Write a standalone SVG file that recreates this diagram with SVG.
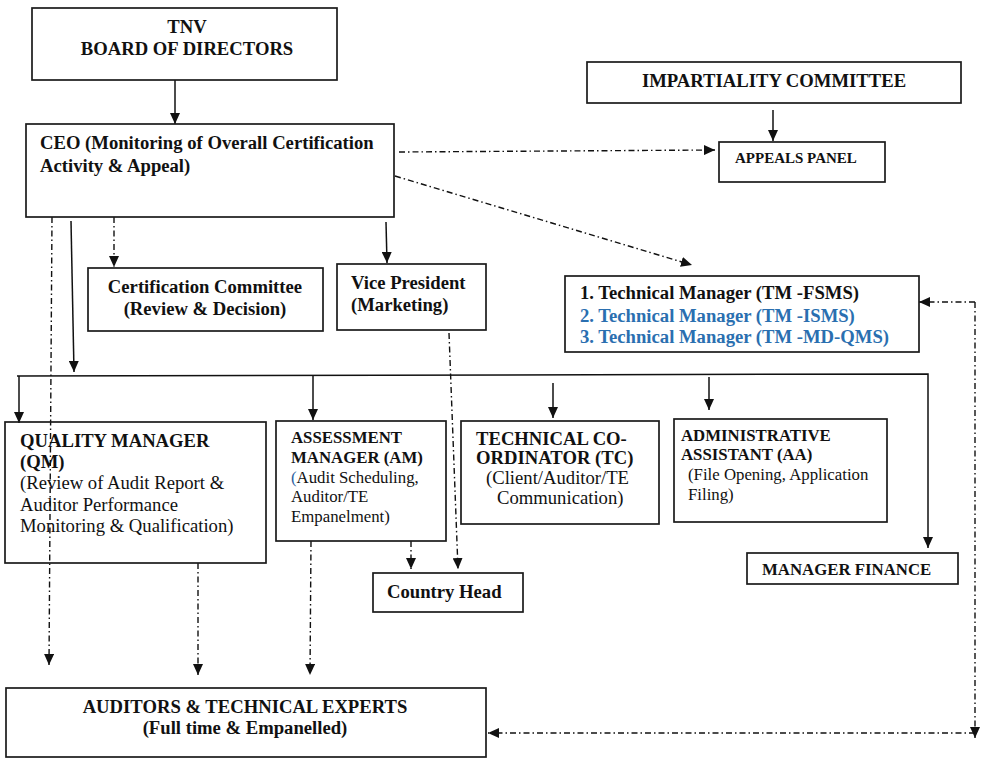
<svg xmlns="http://www.w3.org/2000/svg" width="984" height="766" viewBox="0 0 984 766">
<style>
.box{fill:none;stroke:#1a1a1a;stroke-width:1.7}
.t{font-family:"Liberation Serif","Times New Roman",serif;fill:#111}
.b{font-weight:bold}
.s{font-size:18.67px}
.m{font-size:16.8px}
.blue{fill:#2a6fb0}
.solid{fill:none;stroke:#111;stroke-width:1.5}
.dd{fill:none;stroke:#111;stroke-width:1.4;stroke-dasharray:6 3 1.5 3}
</style>
<defs>
<marker id="ah" markerWidth="11" markerHeight="10" refX="11" refY="5" orient="auto" markerUnits="userSpaceOnUse">
<path d="M0,0 L11,5 L0,10 z" fill="#111"/>
</marker>
</defs>
<rect width="984" height="766" fill="#fff"/>

<g id="connectors">
<line class="solid" x1="175" y1="80" x2="175" y2="124" marker-end="url(#ah)"/>
<line class="solid" x1="773" y1="110" x2="773" y2="141" marker-end="url(#ah)"/>
<line class="dd" x1="399" y1="152" x2="715" y2="150" marker-end="url(#ah)"/>
<line class="dd" x1="395" y1="176" x2="692" y2="265" marker-end="url(#ah)"/>
<line class="dd" x1="114" y1="217" x2="114" y2="267" marker-end="url(#ah)"/>
<line class="solid" x1="386" y1="222" x2="387" y2="263" marker-end="url(#ah)"/>
<line class="solid" x1="71" y1="221" x2="74" y2="372" marker-end="url(#ah)"/>
<line class="dd" x1="52" y1="217" x2="49" y2="665" marker-end="url(#ah)"/>
<path class="solid" d="M17,376 L928,374 L928,548" marker-end="url(#ah)"/>
<line class="solid" x1="19" y1="376" x2="19" y2="423" marker-end="url(#ah)"/>
<line class="solid" x1="313" y1="376" x2="313" y2="420" marker-end="url(#ah)"/>
<line class="solid" x1="553" y1="383" x2="553" y2="418" marker-end="url(#ah)"/>
<line class="solid" x1="709" y1="377" x2="709" y2="410" marker-end="url(#ah)"/>
<line class="dd" x1="198" y1="563" x2="198" y2="675" marker-end="url(#ah)"/>
<line class="dd" x1="311" y1="541" x2="310" y2="675" marker-end="url(#ah)"/>
<line class="dd" x1="411" y1="541" x2="411" y2="569" marker-end="url(#ah)"/>
<line class="dd" x1="449" y1="333" x2="458" y2="569" marker-end="url(#ah)"/>
<line class="dd" x1="975" y1="302" x2="919" y2="302" marker-end="url(#ah)"/>
<line class="dd" x1="975" y1="302" x2="975" y2="738" marker-end="url(#ah)"/>
<line class="dd" x1="975" y1="733" x2="488" y2="733" marker-end="url(#ah)"/>
</g>

<g id="tnv">
<rect class="box" x="32" y="8" width="305" height="72"/>
<text class="t b s" x="187" y="33" text-anchor="middle">TNV</text>
<text class="t b s" x="187" y="55" text-anchor="middle">BOARD OF DIRECTORS</text>
</g>

<g id="ceo">
<rect class="box" x="26" y="124" width="368" height="93"/>
<text class="t b s" x="40" y="149">CEO (Monitoring of Overall Certification</text>
<text class="t b s" x="40" y="172">Activity &amp; Appeal)</text>
</g>

<g id="impartiality">
<rect class="box" x="587" y="62" width="374" height="41"/>
<text class="t b s" x="774" y="87" text-anchor="middle">IMPARTIALITY COMMITTEE</text>
</g>

<g id="appeals">
<rect class="box" x="719" y="142" width="166" height="40"/>
<text class="t b" x="735" y="163" font-size="15">APPEALS PANEL</text>
</g>

<g id="tm">
<rect class="box" x="565" y="276" width="354" height="76"/>
<text class="t b s" x="580" y="299">1. Technical Manager (TM -FSMS)</text>
<text class="t b s blue" x="580" y="322">2. Technical Manager (TM -ISMS)</text>
<text class="t b s blue" x="580" y="343">3. Technical Manager (TM -MD-QMS)</text>
</g>

<g id="certcom">
<rect class="box" x="88" y="268" width="235" height="63"/>
<text class="t b s" x="205" y="293" text-anchor="middle">Certification Committee</text>
<text class="t b s" x="205" y="315" text-anchor="middle">(Review &amp; Decision)</text>
</g>

<g id="vp">
<rect class="box" x="337" y="264" width="149" height="66"/>
<text class="t b s" x="351" y="289">Vice President</text>
<text class="t b s" x="351" y="311">(Marketing)</text>
</g>

<g id="qm">
<rect class="box" x="5" y="422" width="261" height="141"/>
<text class="t b s" x="20" y="447">QUALITY MANAGER</text>
<text class="t b s" x="20" y="468">(QM)</text>
<text class="t s" x="20" y="489">(Review of Audit Report &amp;</text>
<text class="t s" x="20" y="511">Auditor Performance</text>
<text class="t s" x="20" y="532">Monitoring &amp; Qualification)</text>
</g>

<g id="am">
<rect class="box" x="276" y="421" width="170" height="120"/>
<text class="t b m" x="291" y="443">ASSESSMENT</text>
<text class="t b m" x="291" y="463">MANAGER (AM)</text>
<text class="t m" x="291" y="483"><tspan fill="#2e5fa0">(</tspan>Audit Scheduling,</text>
<text class="t m" x="291" y="502">Auditor/TE</text>
<text class="t m" x="291" y="522">Empanelment)</text>
</g>

<g id="tc">
<rect class="box" x="461" y="421" width="198" height="103"/>
<text class="t b s" x="476" y="445">TECHNICAL CO-</text>
<text class="t b s" x="476" y="464">ORDINATOR (TC)</text>
<text class="t s" x="486" y="484">(Client/Auditor/TE</text>
<text class="t s" x="497" y="504">Communication)</text>
</g>

<g id="aa">
<rect class="box" x="674" y="419" width="213" height="103"/>
<text class="t b m" x="681" y="441">ADMINISTRATIVE</text>
<text class="t b m" x="681" y="460">ASSISTANT (AA)</text>
<text class="t m" x="688" y="480">(File Opening, Application</text>
<text class="t m" x="688" y="500">Filing)</text>
</g>

<g id="countryhead">
<rect class="box" x="373" y="573" width="150" height="39"/>
<text class="t b s" x="387" y="598">Country Head</text>
</g>

<g id="finance">
<rect class="box" x="747" y="553" width="211" height="31"/>
<text class="t b m" x="762" y="575">MANAGER FINANCE</text>
</g>

<g id="auditors">
<rect class="box" x="6" y="688" width="480" height="69"/>
<text class="t b s" x="245" y="713" text-anchor="middle">AUDITORS &amp; TECHNICAL EXPERTS</text>
<text class="t b s" x="245" y="734" text-anchor="middle">(Full time &amp; Empanelled)</text>
</g>
</svg>
